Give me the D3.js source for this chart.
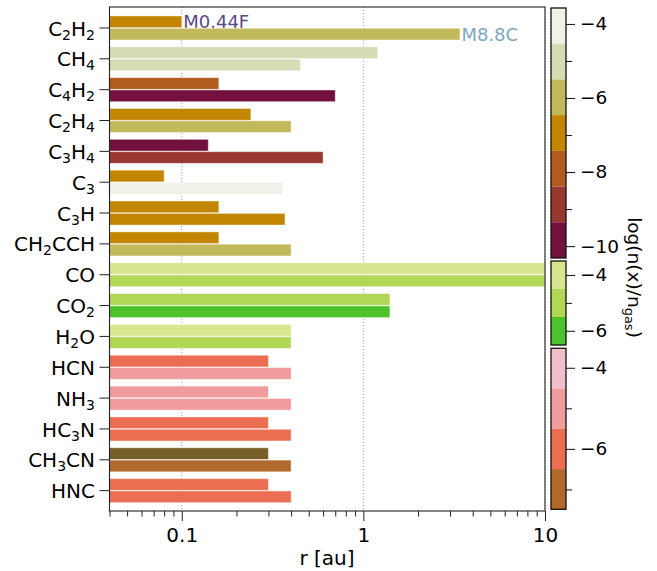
<!DOCTYPE html>
<html>
<head>
<meta charset="utf-8">
<script src="https://cdn.jsdelivr.net/npm/d3@7"></script>
<style>
  html, body { margin: 0; padding: 0; background: #fff; }
  svg { display: block; font-family: "DejaVu Sans", sans-serif; }
</style>
</head>
<body>
<svg id="chart" width="657" height="571"></svg>
<script>
// Molecules (digits are drawn as subscripts)
const molecules = ["C2H2", "CH4", "C4H2", "C2H4", "C3H4", "C3", "C3H", "CH2CCH",
                   "CO", "CO2", "H2O", "HCN", "NH3", "HC3N", "CH3CN", "HNC"];
// Colour group of each molecule: 0 hydrocarbons, 1 oxygen carriers, 2 nitrogen carriers
const groups = [0, 0, 0, 0, 0, 0, 0, 0, 1, 1, 1, 2, 2, 2, 2, 2];

// Model names
const models = ["M0.44F", "M8.8C"];
const modelColors = ["#5b4886", "#80a6c0"];

// Outer radius of the emitting region [au] per model
const radiusM044F = [0.10, 1.2, 0.16, 0.24, 0.14, 0.08, 0.16, 0.16, 10, 1.4, 0.40, 0.30, 0.30, 0.30, 0.30, 0.30];
const radiusM88C  = [3.4, 0.45, 0.70, 0.40, 0.60, 0.36, 0.37, 0.40, 10, 1.4, 0.40, 0.40, 0.40, 0.40, 0.40, 0.40];

// log10 abundance n(x)/n_gas per model
const abundM044F = [-7, -5, -8, -7, -10, -7, -7, -7, -4, -5, -4, -6, -5, -6, -8, -6];
const abundM88C  = [-6, -5, -10, -6, -9, -4, -7, -6, -5, -6, -5, -5, -5, -6, -7, -6];

// Axis ticks
const xMajorTicks = [0.1, 1, 10];
const xTickLabels = ["0.1", "1", "10"];

// Colour bars: value range, colours (top to bottom), major / minor ticks
const cbDomains = [[-10.32, -3.57], [-6.51, -3.5], [-7.49, -3.52]];
const cbColors = [
  ["#eff2e8", "#d5ddb5", "#c2b95a", "#c28600", "#b25b1e", "#983831", "#72103e"],
  ["#d9e68f", "#b2d655", "#4dc22a"],
  ["#f0bfcb", "#f09c9c", "#ec6e52", "#b2692c"]
];
const cbUnderColors = ["#5a0830", "#2e8a15", "#776128"];
const cbMajor = [[-4, -6, -8, -10], [-4, -6], [-4, -6]];
const cbMinor = [[-5, -7, -9], [-5], [-5, -7]];

const svg = d3.select("#chart");
const plot = { left: 109.5, right: 545, top: 7, bottom: 511 };

const x = d3.scaleLog().domain([0.04, 10]).range([plot.left, plot.right]);
const y = d3.scaleLinear().domain([-0.68, 15.66]).range([plot.top, plot.bottom]);
const unit = y(1) - y(0);
const barH = 0.38 * unit;

// colour scales per group (colours listed from high to low value)
const colorScales = cbDomains.map((d, g) =>
  d3.scaleQuantize().domain(d).range(cbColors[g].slice().reverse()));
function colorFor(g, v) {
  const d = cbDomains[g];
  if (v < d[0]) return cbUnderColors[g];
  return colorScales[g](Math.min(v, d[1]));
}

// subscripted chemical label
function chemLabel(sel, name, subSize) {
  const parts = name.match(/[A-Za-z]+|\d+/g);
  parts.forEach(p => {
    const t = sel.append("tspan").text(p);
    if (/^\d+$/.test(p)) t.attr("font-size", subSize).attr("baseline-shift", "-25%");
  });
}

// grid lines
const gridG = svg.append("g");
xMajorTicks.forEach(v => {
  gridG.append("line")
    .attr("x1", x(v)).attr("x2", x(v))
    .attr("y1", plot.top).attr("y2", plot.bottom)
    .attr("stroke", "#a0a0a0").attr("stroke-width", 1)
    .attr("stroke-dasharray", "1,2");
});

// model names at the end of the first hydrocarbon bars (drawn under the bars)
[0, 1].forEach(k => {
  const val = k === 0 ? radiusM044F[0] : radiusM88C[0];
  const off = k === 0 ? -0.2 : 0.2;
  svg.append("text")
    .attr("x", x(val) + 1.5)
    .attr("y", y(off))
    .attr("dy", "0.37em")
    .attr("font-size", 18)
    .attr("fill", modelColors[k])
    .text(models[k]);
});

// bars
const rows = molecules.map((m, i) => ({
  i, m, g: groups[i],
  vals: [radiusM044F[i], radiusM88C[i]],
  ab: [abundM044F[i], abundM88C[i]]
}));
const barsG = svg.append("g");
rows.forEach(r => {
  [0, 1].forEach(k => {
    const off = k === 0 ? -0.2 : 0.2;
    barsG.append("rect")
      .attr("x", plot.left)
      .attr("y", y(r.i + off) - barH / 2)
      .attr("width", x(r.vals[k]) - plot.left)
      .attr("height", barH)
      .attr("fill", colorFor(r.g, r.ab[k]))
      .attr("stroke", "rgba(255,255,255,0.45)")
      .attr("stroke-width", 1);
  });
});

// frame
svg.append("rect")
  .attr("x", plot.left).attr("y", plot.top)
  .attr("width", plot.right - plot.left).attr("height", plot.bottom - plot.top)
  .attr("fill", "none").attr("stroke", "#222").attr("stroke-width", 1.1);

// x axis
const minorTicks = [];
[0.01, 0.1, 1].forEach(dec => {
  for (let k = 2; k <= 9; k++) {
    const v = k * dec;
    if (v >= 0.04 && v <= 10) minorTicks.push(v);
  }
});
const xAxisMinor = d3.axisBottom(x).tickValues(minorTicks).tickSize(5.5).tickFormat("");
const xAxisMajor = d3.axisBottom(x).tickValues(xMajorTicks).tickSize(10).tickPadding(7)
  .tickFormat((d, i) => xTickLabels[i]);
const gxm = svg.append("g").attr("transform", `translate(0,${plot.bottom})`).call(xAxisMinor);
const gx = svg.append("g").attr("transform", `translate(0,${plot.bottom})`).call(xAxisMajor);
[gxm, gx].forEach(g => {
  g.select(".domain").remove();
  g.selectAll("line").attr("stroke", "#222").attr("stroke-width", 1);
});
gx.selectAll("text").attr("font-size", 20).attr("fill", "#000")
  .attr("font-family", "DejaVu Sans, sans-serif");

svg.append("text")
  .attr("x", x(0.63)).attr("y", 565)
  .attr("text-anchor", "middle").attr("font-size", 20)
  .text("r [au]");

// y axis
const yG = svg.append("g");
rows.forEach(r => {
  yG.append("line")
    .attr("x1", plot.left - 10).attr("x2", plot.left)
    .attr("y1", y(r.i)).attr("y2", y(r.i))
    .attr("stroke", "#222").attr("stroke-width", 1);
  const t = yG.append("text")
    .attr("x", plot.left - 14.5).attr("y", y(r.i))
    .attr("dy", "0.38em")
    .attr("text-anchor", "end").attr("font-size", 20);
  chemLabel(t, r.m, 14);
});

// colour bars
const cbX = 551, cbW = 15;
const cbRanges = [[258, 8], [345, 261], [509.3, 348.3]];
cbDomains.forEach((dom, g) => {
  const s = d3.scaleLinear().domain(dom).range(cbRanges[g]);
  const cg = svg.append("g");
  const n = cbColors[g].length;
  const step = (dom[1] - dom[0]) / n;
  cbColors[g].forEach((c, j) => {
    const hi = dom[1] - j * step, lo = hi - step;
    cg.append("rect")
      .attr("x", cbX).attr("y", s(hi))
      .attr("width", cbW).attr("height", s(lo) - s(hi))
      .attr("fill", c);
  });
  cg.append("rect")
    .attr("x", cbX).attr("y", s(dom[1]))
    .attr("width", cbW).attr("height", s(dom[0]) - s(dom[1]))
    .attr("fill", "none").attr("stroke", "#111").attr("stroke-width", 1.3);
  const axMinor = d3.axisRight(s).tickValues(cbMinor[g]).tickSize(6).tickFormat("");
  const axMajor = d3.axisRight(s).tickValues(cbMajor[g]).tickSize(9).tickPadding(5)
    .tickFormat(d => d3.format("")(d).replace("-", "\u2212"));
  const am = cg.append("g").attr("transform", `translate(${cbX + cbW},0)`).call(axMinor);
  const aM = cg.append("g").attr("transform", `translate(${cbX + cbW},0)`).call(axMajor);
  [am, aM].forEach(a => {
    a.select(".domain").remove();
    a.selectAll("line").attr("stroke", "#111").attr("stroke-width", 1);
  });
  aM.selectAll("text").attr("font-size", 18.5).attr("fill", "#000")
    .attr("font-family", "DejaVu Sans, sans-serif");
});

// colour bar label
const lab = svg.append("text")
  .attr("transform", "translate(628,277.5) rotate(90)")
  .attr("text-anchor", "middle").attr("font-size", 18.5);
lab.append("tspan").text("log(n(x)/n");
lab.append("tspan").text("gas").attr("font-size", 13).attr("baseline-shift", "-25%");
lab.append("tspan").text(")");
</script>
</body>
</html>
